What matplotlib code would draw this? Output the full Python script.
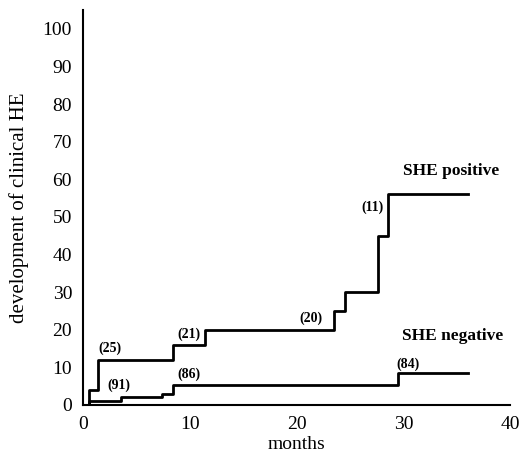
import matplotlib
matplotlib.use("Agg")
import matplotlib.pyplot as plt

# SHE positive step curve (months, cumulative % clinical HE)
pos_x = [0, 0.5, 1.4, 8.4, 11.4, 23.5, 24.5, 27.6, 28.6, 36.1]
pos_y = [0, 4, 12, 16, 20, 25, 30, 45, 56, 56]
# SHE negative step curve
neg_x = [0, 0.5, 3.5, 7.4, 8.4, 29.5, 36.1]
neg_y = [0, 1, 2, 3, 5.3, 8.5, 8.5]

# numbers at risk annotations
risk_labels = ["(25)", "(91)", "(21)", "(86)", "(20)", "(84)", "(11)"]
risk_x = [2.5, 3.3, 9.9, 9.9, 21.3, 30.4, 27.1]
risk_y = [15, 5.3, 18.8, 8.2, 23, 10.9, 52.5]

series_labels = ["SHE positive", "SHE negative"]
series_lx = [34.5, 34.6]
series_ly = [62.3, 18.3]

xticks = [0, 10, 20, 30, 40]
yticks = [0, 10, 20, 30, 40, 50, 60, 70, 80, 90, 100]

plt.rcParams['font.family'] = ['Liberation Serif', 'DejaVu Serif']

fig = plt.figure(figsize=(5.2, 4.63), dpi=100)
ax = fig.add_axes([0.16, 0.1253, 0.821, 0.853])

ax.step(pos_x, pos_y, where='post', color='black', lw=2)
ax.step(neg_x, neg_y, where='post', color='black', lw=2)

for t, x, y in zip(risk_labels, risk_x, risk_y):
    ax.text(x, y, t, ha='center', va='center', fontsize=10, fontweight='bold')
for t, x, y in zip(series_labels, series_lx, series_ly):
    ax.text(x, y, t, ha='center', va='center', fontsize=12.5, fontweight='bold')

ax.set_xlim(0, 40)
ax.set_ylim(0, 105)
ax.set_xticks(xticks)
ax.set_yticks(yticks)
ax.tick_params(length=0, labelsize=14, pad=8)
for s in ['top', 'right']:
    ax.spines[s].set_visible(False)
ax.spines['left'].set_linewidth(1.5)
ax.spines['bottom'].set_linewidth(1.5)
ax.set_xlabel('months', fontsize=14, labelpad=2)
ax.set_ylabel('development of clinical HE', fontsize=15, labelpad=10)

fig.savefig('out.png', dpi=100)
